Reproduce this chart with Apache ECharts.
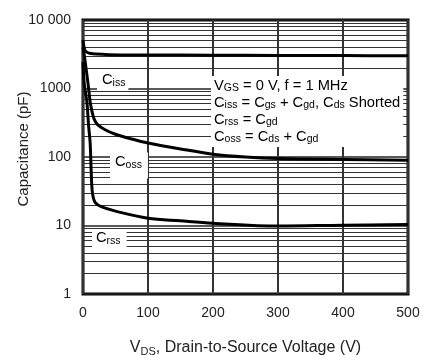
<!DOCTYPE html>
<html><head><meta charset="utf-8">
<script src="https://cdn.jsdelivr.net/npm/echarts@6/dist/echarts.min.js"></script>
<style>html,body{margin:0;padding:0;background:#fff}#c{width:438px;height:355px}</style>
</head><body><div id="c"></div>
<script>
// ---- data ----
const xTicks = [0, 100, 200, 300, 400, 500];
const yTickLabels = ['1', '10', '100', '1000', '10 000'];
const yMinorValues = [2,3,4,5,6,7,8,9, 20,30,40,50,60,70,80,90, 200,300,400,500,600,700,800,900, 2000,3000,4000,5000,6000,7000,8000,9000];

const cissV = [0, 1, 3, 6, 10, 20, 40, 100, 200, 300, 400, 500];
const cissC = [5100, 4300, 3600, 3380, 3280, 3180, 3120, 3090, 3060, 3040, 3020, 3000];

const cossV = [0, 3, 8, 11, 14, 17, 22, 34, 50, 75, 100, 150, 200, 250, 300, 400, 500];
const cossC = [4000, 2600, 1120, 640, 455, 360, 300, 250, 215, 183, 160, 131, 110, 100, 95, 92, 90];

const crssV = [0, 2, 6, 8.5, 11, 12.5, 14, 16, 19, 28, 50, 100, 150, 200, 300, 400, 500];
const crssC = [2450, 1150, 635, 295, 160, 65, 33, 25, 21.5, 18.8, 16.2, 12.8, 11.7, 10.8, 9.8, 10.1, 10.3];

const FONT = 'Liberation Sans, Arial, sans-serif';
const TXT = '#222';
const pairs = (xs, ys) => xs.map((x, i) => [x, ys[i]]);

const rich = {
  m: { fontSize: 14.7, fontFamily: FONT, color: TXT, lineHeight: 17 },
  s: { fontSize: 10.5, fontFamily: FONT, color: TXT, lineHeight: 8, verticalAlign: 'bottom' }
};

const chart = echarts.init(document.getElementById('c'), null, { renderer: 'canvas' });

const curve = (name, data) => ({
  name, type: 'line', data, showSymbol: false, symbol: 'none', z: 5,
  smooth: 0.35,
  lineStyle: { color: '#000', width: 3 }
});

chart.setOption({
  animation: false,
  backgroundColor: '#fff',
  grid: { left: 83, right: 30, top: 20, bottom: 61, containLabel: false, outerBoundsMode: 'none',
    show: true, borderColor: '#000', borderWidth: 3, backgroundColor: 'transparent' },
  xAxis: {
    type: 'value', min: 0, max: 500, interval: 100,
    axisLine: { show: false }, axisTick: { show: false },
    splitLine: { show: true, lineStyle: { color: '#333', width: 2 } },
    axisLabel: { fontSize: 14, fontFamily: FONT, color: TXT, margin: 12,
      formatter: v => String(xTicks[xTicks.indexOf(v)]) },
    name: '{m|V}{s|DS}{m|, Drain-to-Source Voltage (V)}',
    nameLocation: 'middle', nameGap: 44,
    nameTextStyle: { rich: {
      m: { fontSize: 16, fontFamily: FONT, color: TXT, lineHeight: 19 },
      s: { fontSize: 11, fontFamily: FONT, color: TXT, lineHeight: 9, verticalAlign: 'bottom' }
    } }
  },
  yAxis: {
    type: 'log', logBase: 10, min: 1, max: 10000,
    axisLine: { show: false }, axisTick: { show: false },
    splitLine: { show: true, lineStyle: { color: '#222', width: 1.5 } },
    axisLabel: { fontSize: 14, fontFamily: FONT, color: TXT, margin: 12,
      formatter: v => yTickLabels[Math.round(Math.log10(v))] }
  },
  graphic: [
    { type: 'text', z: 100, x: 24, y: 149, rotation: Math.PI / 2,
      style: { text: 'Capacitance (pF)', fontSize: 15, fontFamily: FONT, fill: TXT, align: 'center', verticalAlign: 'middle' } },
    { type: 'text', z: 100, x: 97, y: 70.6,
      style: { text: '{m|C}{s|iss}', rich, backgroundColor: '#fff', padding: [1, 3, 2, 5] } },
    { type: 'text', z: 100, x: 110, y: 152.6,
      style: { text: '{m|C}{s|oss}', rich, backgroundColor: '#fff', padding: [1, 6, 8, 5] } },
    { type: 'text', z: 100, x: 92, y: 229.6,
      style: { text: '{m|C}{s|rss}', rich, backgroundColor: '#fff', padding: [0, 6, 6, 4] } },
    { type: 'text', z: 100, x: 211, y: 76,
      style: { text: '{m|V}{s|GS}{m| = 0 V, f = 1 MHz}\n{m|C}{s|iss}{m| = C}{s|gs}{m| + C}{s|gd}{m|, C}{s|ds}{m| Shorted}\n{m|C}{s|rss}{m| = C}{s|gd}\n{m|C}{s|oss}{m| = C}{s|ds}{m| + C}{s|gd}',
        rich, backgroundColor: '#fff', padding: [1, 3, 2, 3] } }
  ],
  series: [
    { name: 'grid', type: 'line', data: [], z: 1,
      markLine: { silent: true, symbol: 'none', label: { show: false }, animation: false,
        lineStyle: { color: '#333', width: 1.2, type: 'solid' },
        data: yMinorValues.map(v => ({ yAxis: v })) } },
    curve('Ciss', pairs(cissV, cissC)),
    curve('Coss', pairs(cossV, cossC)),
    curve('Crss', pairs(crssV, crssC))
  ]
});
</script></body></html>
